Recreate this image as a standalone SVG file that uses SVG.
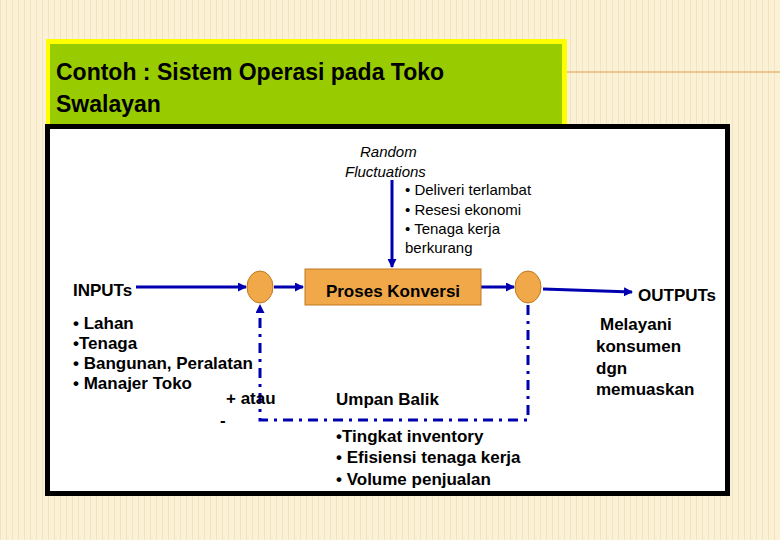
<svg xmlns="http://www.w3.org/2000/svg" width="780" height="540" viewBox="0 0 780 540">
<defs>
<marker id="ah" markerWidth="9" markerHeight="9" refX="8" refY="4.5" orient="auto" markerUnits="userSpaceOnUse"><path d="M0,0 L9,4.5 L0,9 z" fill="#0000b0"/></marker>
<pattern id="st" width="6" height="540" patternUnits="userSpaceOnUse"><rect width="6" height="540" fill="#fbf1d6"/><rect width="1" height="540" fill="#f3e4bd"/></pattern>
</defs>
<style>
.t{font-family:"Liberation Sans",Arial,sans-serif;font-size:17px;font-weight:bold;fill:#000}
.s{font-family:"Liberation Sans",Arial,sans-serif;font-size:15px;fill:#000}
.c{stroke:#0000b0;stroke-width:3;fill:none}
.n{fill:#f0a848;stroke:#c07820;stroke-width:1}
</style>
<rect width="780" height="540" fill="url(#st)"/>
<line x1="565" y1="72" x2="780" y2="72" stroke="#e8b878" stroke-width="1.5"/>
<g id="title">
<rect x="46" y="39" width="521" height="89" fill="#ffff00"/>
<rect x="50" y="44" width="512" height="82" fill="#99cc00"/>
<text x="56" y="80" font-family="Liberation Sans,Arial,sans-serif" font-size="23" font-weight="bold" fill="#000">Contoh : Sistem Operasi pada Toko</text>
<text x="56" y="112" font-family="Liberation Sans,Arial,sans-serif" font-size="23" font-weight="bold" fill="#000">Swalayan</text>
</g>
<rect x="47.5" y="126.5" width="680" height="367" fill="#fff" stroke="#000" stroke-width="5"/>
<g id="connectors">
<line class="c" x1="136" y1="287" x2="246" y2="287" marker-end="url(#ah)"/>
<line class="c" x1="274" y1="287" x2="303" y2="287" marker-end="url(#ah)"/>
<line class="c" x1="481" y1="287" x2="514" y2="287" marker-end="url(#ah)"/>
<line class="c" x1="543" y1="289" x2="632" y2="292" stroke-width="4" marker-end="url(#ah)"/>
<line class="c" x1="392" y1="180" x2="392" y2="267" marker-end="url(#ah)"/>
<polyline class="c" points="528,305 528,420 260,420 260,305" stroke-dasharray="10,6,3,6" marker-end="url(#ah)"/>
</g>
<g id="random"><text class="s" x="360" y="157" font-style="italic">Random</text><text class="s" x="345" y="177" font-style="italic">Fluctuations</text>
<text class="s" x="405" y="195">• Deliveri terlambat</text><text class="s" x="405" y="215">• Resesi ekonomi</text><text class="s" x="405" y="234">• Tenaga kerja</text><text class="s" x="405" y="253">berkurang</text></g>
<g id="c1"><ellipse class="n" cx="260" cy="287" rx="13" ry="16"/></g>
<g id="proses"><rect class="n" x="305" y="269" width="176" height="36"/><text class="t" x="393" y="297" text-anchor="middle">Proses Konversi</text></g>
<g id="c2"><ellipse class="n" cx="528" cy="287" rx="13" ry="16"/></g>
<g id="inputs"><text class="t" x="73" y="296">INPUTs</text>
<text class="t" x="73" y="329">• Lahan</text><text class="t" x="73" y="349">•Tenaga</text><text class="t" x="73" y="369">• Bangunan, Peralatan</text><text class="t" x="73" y="389">• Manajer Toko</text></g>
<g id="outputs"><text class="t" x="638" y="301">OUTPUTs</text>
<text class="t" x="600" y="330">Melayani</text><text class="t" x="596" y="352">konsumen</text><text class="t" x="596" y="374">dgn</text><text class="t" x="596" y="395">memuaskan</text></g>
<g id="umpan"><text class="t" x="226" y="404">+  atau</text><text class="t" x="220" y="426">-</text>
<text class="t" x="336" y="405">Umpan Balik</text>
<text class="t" x="336" y="442">•Tingkat inventory</text><text class="t" x="336" y="463">• Efisiensi tenaga kerja</text><text class="t" x="336" y="485">• Volume penjualan</text></g>
</svg>
